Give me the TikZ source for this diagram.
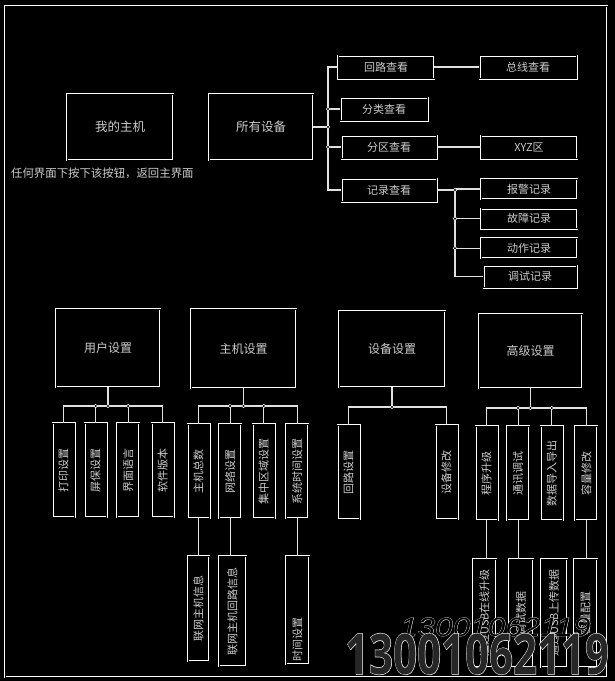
\documentclass[tikz,border=0pt]{standalone}
\usepackage{fontspec}
\usepackage{graphicx}
\setmainfont{Noto Sans CJK SC}
\newfontfamily\wmbold{Open Sans}
\newfontfamily\wmital{Liberation Sans}
\usetikzlibrary{positioning}

\definecolor{txtgray}{gray}{0.8}
\definecolor{linegray}{gray}{0.88}
\newcommand{\vtext}[1]{\rotatebox{90}{#1}}
\newcommand{\halo}[2]{\rlap{\addfontfeature{FakeBold=#1}\color{white}#2}#2}

\begin{document}
\begin{tikzpicture}[
        x=1pt, y=-1pt,
        box/.style={rectangle, draw=white, double=black, line width=0.6pt, double distance=0.8pt, text=txtgray, inner sep=0pt, font=\fontsize{11}{13}\selectfont},
        bigbox/.style={box, minimum width=104pt, minimum height=76pt, font=\fontsize{12}{14}\selectfont},
        itembox/.style={box, minimum width=95pt, minimum height=23pt},
        vbox/.style={box, minimum width=22pt, minimum height=94pt},
        subbox/.style={box, minimum width=23pt, minimum height=108pt},
        link/.style={draw=linegray, line width=1.2pt},
        joint/.style={fill=black, draw=white, line width=0.5pt}
    ]
        \useasboundingbox (0,0) rectangle (615,681);
        \fill[black] (0,0) rectangle (615,681);
        \draw[draw=white, double=black, line width=0.6pt, double distance=0.8pt] (5,6) rectangle (607,677);

        % Top row
        \node[bigbox, minimum width=106pt, minimum height=66pt, font=\fontsize{12.5}{14}\selectfont] (myhost) at (120,127) {我的主机};
        \node[bigbox, minimum width=104pt, minimum height=66pt, font=\fontsize{12.5}{14}\selectfont] (alldev) at (261,127) {所有设备};
        \node[text=txtgray, font=\fontsize{11.4}{13}\selectfont, anchor=west, inner sep=0pt] (hint) at (11,173) {任何界面下按下该按钮，返回主界面};

        % View list
        \node[itembox, minimum width=96pt] (loopview) at (386,67) {回路查看};
        \node[itembox, minimum width=87pt] (classview) at (384,109) {分类查看};
        \node[itembox] (zoneview) at (389,147) {分区查看};
        \node[itembox] (recview) at (389,190) {记录查看};
        \node[itembox, minimum width=97pt] (busview) at (528,67) {总线查看};
        \node[itembox, minimum width=96pt] (xyz) at (529,147) {XYZ区};

        % Records
        \node[itembox, minimum width=96pt, minimum height=20pt] (alarm) at (529,189) {报警记录};
        \node[itembox, minimum width=96pt, minimum height=20pt, below=9pt of alarm] (fault) {故障记录};
        \node[itembox, minimum width=96pt, minimum height=20pt, below=9pt of fault] (action) {动作记录};
        \node[itembox, minimum width=93pt, minimum height=22pt, below=7pt of action, xshift=1pt] (debug) {调试记录};

        % View arrows
        \coordinate (trunk) at (328,0);
        \draw[link] (loopview.west) -- (loopview.west -| trunk) -- (recview.west -| trunk) -- (recview.west);
        \draw[link] (classview.west) -- (classview.west -| trunk);
        \draw[link] (zoneview.west) -- (zoneview.west -| trunk);
        \draw[link] (alldev.east) -- (alldev.east -| trunk);
        \draw[link] (loopview.east) -- (busview.west);
        \draw[link] (zoneview.east) -- (xyz.west);
        \coordinate (rtrunk) at (455,0);
        \draw[link] (recview.east) -- (recview.east -| rtrunk) -- (debug.west -| rtrunk) -- (debug.west);
        \draw[link] (alarm.west) -- (alarm.west -| rtrunk);
        \draw[link] (fault.west) -- (fault.west -| rtrunk);
        \draw[link] (action.west) -- (action.west -| rtrunk);
        \filldraw[joint] (classview.west -| trunk) circle (1.8pt);
        \filldraw[joint] (alldev.east -| trunk) circle (1.8pt);
        \filldraw[joint] (zoneview.west -| trunk) circle (1.8pt);
        \filldraw[joint] (recview.east -| rtrunk) circle (1.8pt);
        \filldraw[joint] (fault.west -| rtrunk) circle (1.8pt);
        \filldraw[joint] (action.west -| rtrunk) circle (1.8pt);

        % Settings
        \node[bigbox, minimum width=104pt, minimum height=78pt] (usrset) at (108,348) {用户设置};
        \node[bigbox, minimum width=105pt, minimum height=79pt] (hostset) at (243.5,348.5) {主机设置};
        \node[bigbox, minimum width=106pt, minimum height=76pt] (devset) at (392,349) {设备设置};
        \node[bigbox, minimum width=103pt, minimum height=74pt] (advset) at (530.5,351) {高级设置};

        % User settings
        \node[vbox] (print) at (63.5,470) {\vtext{打印设置}};
        \node[vbox, right=9.5pt of print] (saver) {\vtext{屏保设置}};
        \node[vbox, right=10pt of saver] (lang) {\vtext{界面语言}};
        \node[vbox, right=12pt of lang] (ver) {\vtext{软件版本}};

        % Host settings
        \node[vbox] (mainnum) at (198.5,471) {\vtext{主机总数}};
        \node[vbox, right=9pt of mainnum] (net) {\vtext{网络设置}};
        \node[vbox, right=11pt of net] (zoneset) {\vtext{集中区域设置}};
        \node[vbox, right=11pt of zoneset] (timesys) {\vtext{系统时间设置}};

        % Device settings
        \node[vbox] (loopset) at (348.5,472) {\vtext{回路设置}};
        \node[vbox] (devmod) at (446.5,472) {\vtext{设备修改}};

        % Advanced settings
        \node[vbox] (upgrade) at (486.5,473) {\vtext{程序升级}};
        \node[vbox, right=9pt of upgrade] (comm) {\vtext{通讯调试}};
        \node[vbox, right=11pt of comm] (dataio) {\vtext{数据导入导出}};
        \node[vbox, right=12pt of dataio] (capmod) {\vtext{容量修改}};

        % Third level
        \node[subbox, minimum width=21pt, minimum height=105pt] (netinfo) at (198.5,608.5) {\vtext{联网主机信息}};
        \node[subbox, minimum width=27pt, minimum height=110pt] (netloop) at (232.5,611) {\vtext{联网主机回路信息}};
        \node[subbox] (timeset) at (297.5,610) {};
        \node[text=txtgray, font=\fontsize{11}{13}\selectfont, inner sep=0pt, above=3pt of timeset.south] (timetxt) {\vtext{时间设置}};
        \node[subbox] (usbup) at (484.5,613) {\vtext{通过USB在线升级}};
        \node[subbox, minimum width=24pt] (debugdata) at (521,613) {\vtext{调试数据}};
        \node[subbox, minimum width=26pt] (usbdata) at (554,613) {\vtext{通过USB上传数据}};
        \node[subbox] (capcfg) at (585.5,613) {\vtext{容量配置}};

        % Bus lines
        \coordinate (usrbus) at (0,406);
        \draw[link] (usrset.south) -- (usrset.south |- usrbus);
        \draw[link] (print.north) -- (print.north |- usrbus) -- (ver.north |- usrbus) -- (ver.north);
        \draw[link] (saver.north) -- (saver.north |- usrbus);
        \draw[link] (lang.north) -- (lang.north |- usrbus);
        \filldraw[joint] (saver.north |- usrbus) circle (1.8pt);
        \filldraw[joint] (usrset.south |- usrbus) circle (1.8pt);
        \filldraw[joint] (lang.north |- usrbus) circle (1.8pt);

        \coordinate (hostbus) at (0,406);
        \draw[link] (hostset.south) -- (hostset.south |- hostbus);
        \draw[link] (mainnum.north) -- (mainnum.north |- hostbus) -- (timesys.north |- hostbus) -- (timesys.north);
        \draw[link] (net.north) -- (net.north |- hostbus);
        \draw[link] (zoneset.north) -- (zoneset.north |- hostbus);
        \filldraw[joint] (net.north |- hostbus) circle (1.8pt);
        \filldraw[joint] (hostset.south |- hostbus) circle (1.8pt);
        \filldraw[joint] (zoneset.north |- hostbus) circle (1.8pt);

        \coordinate (devbus) at (0,407);
        \draw[link] (devset.south) -- (devset.south |- devbus);
        \draw[link] (loopset.north) -- (loopset.north |- devbus) -- (devmod.north |- devbus) -- (devmod.north);
        \filldraw[joint] (devset.south |- devbus) circle (1.8pt);

        \coordinate (advbus) at (0,408);
        \draw[link] (advset.south) -- (advset.south |- advbus);
        \draw[link] (upgrade.north) -- (upgrade.north |- advbus) -- (capmod.north |- advbus) -- (capmod.north);
        \draw[link] (comm.north) -- (comm.north |- advbus);
        \draw[link] (dataio.north) -- (dataio.north |- advbus);
        \filldraw[joint] (comm.north |- advbus) circle (1.8pt);
        \filldraw[joint] (advset.south |- advbus) circle (1.8pt);
        \filldraw[joint] (dataio.north |- advbus) circle (1.8pt);

        % Third level lines
        \draw[link] (mainnum.south) -- (mainnum.south |- netinfo.north);
        \draw[link] (net.south) -- (net.south |- netloop.north);
        \draw[link] (timesys.south) -- (timesys.south |- timeset.north);
        \draw[link] (upgrade.south) -- (upgrade.south |- usbup.north);
        \draw[link] (comm.south) -- (comm.south |- debugdata.north);
        \draw[link] (capmod.south) -- (capmod.south |- capcfg.north);

        % Watermark
        \node[anchor=base west, inner sep=0pt, text=black, font=\wmital\itshape\fontsize{26.5}{28}\selectfont] (wmthin) at (400,636) {\scalebox{1.19}[1]{\halo{1.5}{13001062119}}};
        \node[anchor=base west, inner sep=0pt, text=black!85!white, font=\wmbold\bfseries\fontsize{56}{60}\selectfont] (wmthick) at (345,674) {\scalebox{0.75}[1]{\halo{2}{13001062119}}};
    \end{tikzpicture}
\end{document}
